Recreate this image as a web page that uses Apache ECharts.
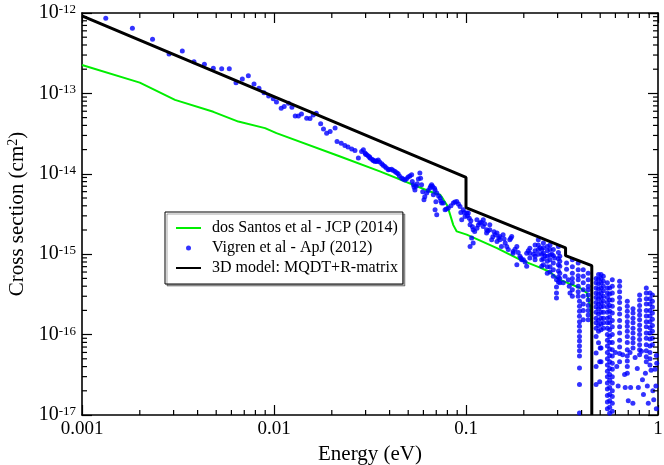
<!DOCTYPE html>
<html>
<head>
<meta charset="utf-8">
<script src="https://cdn.jsdelivr.net/npm/echarts@6/dist/echarts.min.js"></script>
<style>
  html, body { margin: 0; padding: 0; background: #fff; }
  #main { width: 664px; height: 465px; }
</style>
</head>
<body>
<div id="main"></div>
<script>
// tick labels
var xTickLabels = ['0.001', '0.01', '0.1', '1'];
var yTickExponents = ['-17', '-16', '-15', '-14', '-13', '-12'];

// dos Santos et al - JCP (2014)
var dosSantos = [
    [0.001, 2.26e-13], [0.002, 1.36e-13], [0.00305, 8.3e-14], [0.00483, 5.9e-14],
    [0.00652, 4.46e-14], [0.00898, 3.7e-14], [0.0103, 3.2e-14], [0.0221, 1.64e-14],
    [0.0356, 1.07e-14], [0.0649, 6.03e-15], [0.0733, 5.5e-15], [0.0762, 4.8e-15],
    [0.080, 4.0e-15], [0.0859, 2.3e-15], [0.0895, 1.92e-15], [0.1009, 1.75e-15],
    [0.145, 1.19e-15], [0.191, 8.55e-16], [0.243, 6.8e-16], [0.274, 6.0e-16],
    [0.296, 5.1e-16], [0.309, 4.8e-16], [0.393, 3.8e-16], [0.426, 3.3e-16],
    [0.443, 2.25e-16], [0.452, 1.2e-16]
];

// 3D model: MQDT+R-matrix
var model3D = [
    [0.001, 9.2e-13], [0.1, 9.0e-15], [0.1, 3.8e-15], [0.33, 1.2e-15],
    [0.33, 9.6e-16], [0.452, 7.2e-16], [0.452, 1e-17]
];

// Vigren et al - ApJ (2012), low / middle energies
var vigrenLow = [
    [0.00133, 8.6e-13], [0.00183, 6.45e-13], [0.00233, 4.71e-13], [0.00284, 3.1e-13],
    [0.00333, 3.37e-13], [0.00383, 2.48e-13], [0.00434, 2.31e-13], [0.00483, 2.06e-13],
    [0.00534, 2.02e-13], [0.00585, 2.02e-13], [0.00634, 1.36e-13], [0.00684, 1.51e-13],
    [0.00735, 1.66e-13], [0.00787, 1.31e-13], [0.00835, 1.16e-13], [0.00887, 1.02e-13],
    [0.00938, 9.3e-14], [0.00991, 8.6e-14], [0.0103, 7.8e-14], [0.0109, 6.55e-14],
    [0.0113, 6.86e-14], [0.0119, 7.55e-14], [0.0124, 6.74e-14], [0.0129, 5.25e-14],
    [0.0134, 5.25e-14], [0.0139, 5.56e-14], [0.0148, 4.92e-14], [0.0154, 4.86e-14],
    [0.016, 5.4e-14], [0.0166, 5.68e-14], [0.0175, 4.18e-14], [0.0181, 3.6e-14],
    [0.0188, 3.2e-14], [0.0196, 3.37e-14], [0.0208, 3.7e-14], [0.0213, 2.52e-14],
    [0.0224, 2.4e-14], [0.0234, 2.25e-14], [0.0243, 2.15e-14], [0.0254, 2.03e-14],
    [0.0264, 1.95e-14], [0.0275, 1.57e-14], [0.0286, 1.89e-14], [0.0292, 1.99e-14],
    [0.0298, 1.81e-14], [0.0304, 1.73e-14], [0.0310, 1.67e-14], [0.0316, 1.57e-14],
    [0.0323, 1.52e-14], [0.0328, 1.49e-14], [0.0336, 1.42e-14], [0.0344, 1.42e-14],
    [0.0349, 1.49e-14], [0.0364, 1.33e-14], [0.0378, 1.23e-14], [0.0394, 1.12e-14],
    [0.0410, 1.14e-14], [0.0427, 1.07e-14], [0.0443, 1.0e-14], [0.0462, 8.85e-15],
    [0.0481, 8.4e-15], [0.0500, 9.1e-15], [0.0521, 9.7e-15], [0.0532, 7.3e-15],
    [0.0542, 6.3e-15], [0.0557, 7.5e-15], [0.0575, 1.02e-14], [0.0587, 7.3e-15]
];

var vigrenMid = [
    [0.0604, 4.75e-15], [0.0624, 5.75e-15], [0.0649, 6.64e-15], [0.0662, 7.3e-15],
    [0.0671, 6.95e-15], [0.0676, 5.5e-15], [0.0690, 3.57e-15], [0.0704, 3.1e-15],
    [0.0690, 6.3e-15], [0.0704, 5.75e-15], [0.0733, 5.0e-15], [0.0747, 4.32e-15],
    [0.0762, 4.32e-15], [0.0778, 3.57e-15], [0.0809, 3.75e-15], [0.0859, 4.32e-15],
    [0.0895, 4.53e-15], [0.0931, 3.93e-15], [0.0950, 2.68e-15], [0.0968, 3.57e-15],
    [0.0989, 2.95e-15], [0.1009, 3.25e-15], [0.1028, 3.25e-15], [0.105, 2.32e-15],
    [0.107, 1.59e-15], [0.105, 1.25e-15], [0.109, 2.01e-15], [0.109, 1.38e-15],
    [0.111, 1.92e-15], [0.114, 2.11e-15], [0.114, 2.68e-15], [0.118, 2.44e-15],
    [0.123, 2.21e-15], [0.123, 2.68e-15], [0.128, 1.83e-15], [0.128, 2.01e-15],
    [0.133, 2.01e-15], [0.133, 2.32e-15], [0.136, 1.51e-15], [0.142, 1.75e-15],
    [0.145, 1.44e-15], [0.145, 1.83e-15], [0.150, 1.66e-15], [0.150, 1.51e-15],
    [0.153, 1.25e-15], [0.156, 1.75e-15], [0.160, 1.38e-15], [0.166, 1.14e-15],
    [0.169, 1.51e-15], [0.173, 1.66e-15], [0.176, 1.03e-15], [0.176, 1.08e-15],
    [0.184, 7.4e-16], [0.184, 1.25e-15], [0.191, 9.4e-16], [0.195, 8.55e-16],
    [0.199, 8.55e-16], [0.207, 7.06e-16], [0.207, 1.03e-15]
];

// Vigren, extra points filling the dense band between 0.03 and 0.3 eV
var vigrenBand = [
    [0.0300, 1.75e-14], [0.0315, 1.62e-14], [0.0330, 1.45e-14], [0.0340, 1.45e-14],
    [0.0355, 1.40e-14], [0.0370, 1.28e-14], [0.0385, 1.18e-14], [0.0400, 1.13e-14],
    [0.0418, 1.10e-14], [0.0435, 1.03e-14], [0.0450, 9.4e-15], [0.0470, 8.6e-15],
    [0.0490, 8.7e-15], [0.0510, 9.4e-15], [0.0525, 8.0e-15], [0.0537, 6.8e-15],
    [0.0550, 7.0e-15], [0.0565, 8.6e-15], [0.0580, 8.8e-15], [0.0595, 6.0e-15],
    [0.0610, 5.2e-15], [0.0635, 6.2e-15], [0.0655, 7.0e-15], [0.0685, 6.6e-15],
    [0.0697, 4.5e-15], [0.0720, 5.3e-15], [0.0740, 4.6e-15], [0.0790, 3.65e-15],
    [0.0835, 4.0e-15], [0.0875, 4.45e-15], [0.0913, 4.2e-15], [0.0940, 3.3e-15],
    [0.0978, 3.3e-15], [0.1018, 3.0e-15], [0.1040, 2.8e-15], [0.1060, 2.6e-15],
    [0.1080, 2.2e-15], [0.116, 2.3e-15], [0.120, 2.5e-15], [0.125, 2.4e-15],
    [0.130, 1.95e-15], [0.138, 1.65e-15], [0.140, 1.9e-15], [0.148, 1.6e-15],
    [0.158, 1.55e-15], [0.163, 1.25e-15], [0.171, 1.58e-15], [0.180, 1.15e-15],
    [0.187, 1.05e-15], [0.193, 9.0e-16], [0.203, 8.0e-16], [0.211, 1.1e-15],
    [0.225, 1.0e-15], [0.243, 1.2e-15], [0.258, 9.5e-16], [0.280, 1.0e-15],
    [0.290, 9.0e-16]
];

// Vigren, resonance region: [energy, [cross sections down the column]]
var vigrenColumns = [
    [0.215, [1.19e-15, 1.03e-15, 9.0e-16]],
    [0.229, [1.3e-15, 1.1e-15, 9.4e-16, 8.5e-16]],
    [0.238, [1.51e-15, 1.3e-15, 1.14e-15, 1.0e-15]],
    [0.248, [1.14e-15, 1.0e-15, 8.5e-16, 7.1e-16]],
    [0.253, [1.38e-15, 1.2e-15, 1.03e-15, 8.8e-16, 7.4e-16]],
    [0.265, [1.25e-15, 1.1e-15, 9.4e-16, 8.2e-16, 7.0e-16, 5.8e-16]],
    [0.274, [1.3e-15, 1.14e-15, 9.8e-16, 8.5e-16, 7.0e-16, 6.0e-16]],
    [0.285, [1.14e-15, 9.6e-16, 7.8e-16, 6.4e-16, 5.3e-16]],
    [0.296, [4.8e-16, 3.9e-16, 3.3e-16, 2.85e-16]],
    [0.303, [1.25e-15, 1.05e-15, 8.8e-16, 7.4e-16, 6.2e-16, 5.2e-16, 4.5e-16]],
    [0.308, [9.4e-16, 8.2e-16, 7.1e-16, 5.8e-16, 5.0e-16, 4.4e-16]],
    [0.321, [4.4e-16]],
    [0.328, [5.3e-16]],
    [0.334, [7.8e-16, 6.5e-16]],
    [0.341, [4.8e-16]],
    [0.345, [4.0e-16]],
    [0.348, [3.3e-16]],
    [0.358, [8.5e-16, 7.0e-16, 5.8e-16, 5.0e-16, 4.4e-16, 3.6e-16, 3.0e-16]],
    [0.384, [7.8e-16, 6.4e-16, 5.4e-16, 4.8e-16, 4.0e-16, 3.4e-16, 3.0e-16]],
    [0.390, [2.6e-16, 2.25e-16, 1.95e-16, 1.69e-16, 1.45e-16, 1.27e-16, 1.1e-16, 9.5e-17,
             8.3e-17, 7.2e-17, 6.3e-17, 5.4e-17, 3.85e-17, 2.4e-17, 1.06e-17]],
    [0.408, [6.4e-16, 5.3e-16, 4.4e-16, 3.6e-16, 3.0e-16, 2.4e-16, 2.0e-16, 1.53e-16]],
    [0.433, [5.8e-16, 4.8e-16, 4.0e-16, 3.6e-16, 3.1e-16, 2.7e-16, 2.3e-16, 2.0e-16, 1.75e-16, 1.53e-16]],
    [0.476, [5.0e-16, 4.4e-16, 3.8e-16, 3.3e-16, 2.9e-16, 2.5e-16, 2.2e-16, 1.9e-16, 1.6e-16,
             1.4e-16, 1.2e-16, 9.5e-17, 5.9e-17, 4.0e-17, 2.4e-17]],
    [0.490, [5.6e-16, 4.9e-16, 4.3e-16, 3.7e-16, 3.2e-16, 2.8e-16, 2.4e-16, 2.1e-16, 1.8e-16,
             1.5e-16, 1.3e-16, 1.1e-16, 7.9e-17]],
    [0.505, [5.6e-16, 5.0e-16, 4.4e-16, 3.8e-16, 3.3e-16, 2.9e-16, 2.5e-16, 2.2e-16, 1.9e-16,
             1.6e-16, 1.35e-16, 1.15e-16, 6.8e-17, 4.6e-17]],
    [0.519, [5.3e-16, 4.6e-16, 4.0e-16, 3.5e-16, 3.0e-16, 2.6e-16, 2.25e-16, 1.9e-16, 1.6e-16,
             1.4e-16, 1.2e-16]],
    [0.545, [4.4e-16, 3.8e-16, 3.3e-16, 2.9e-16, 2.5e-16, 2.2e-16, 1.9e-16, 1.6e-16, 1.4e-16,
             1.2e-16, 1.0e-16, 8.5e-17, 7.2e-17, 6.0e-17, 5.0e-17, 4.2e-17, 3.5e-17, 3.0e-17,
             2.5e-17, 2.1e-17, 1.75e-17, 1.45e-17, 1.2e-17]],
    [0.560, [3.8e-16, 3.2e-16, 2.7e-16, 2.3e-16, 1.95e-16, 1.65e-16, 1.4e-16, 1.15e-16, 9.5e-17,
             8.0e-17, 6.6e-17, 5.5e-17, 4.6e-17, 3.8e-17, 3.2e-17, 2.7e-17, 2.2e-17, 1.8e-17,
             1.5e-17, 1.25e-17, 1.05e-17]],
    [0.578, [4.8e-16, 4.0e-16, 3.3e-16, 2.7e-16, 2.25e-16, 1.85e-16, 1.5e-16, 1.25e-16, 1.0e-16,
             8.0e-17, 6.5e-17, 5.4e-17, 4.4e-17, 3.7e-17, 3.0e-17, 2.5e-17, 2.0e-17, 1.7e-17,
             1.4e-17, 1.11e-17]],
    [0.631, [4.6e-16, 4.0e-16, 3.4e-16, 2.9e-16, 2.5e-16, 2.1e-16, 1.8e-16, 1.5e-16, 1.25e-16,
             1.05e-16, 8.5e-17, 7.0e-17, 5.8e-17, 4.6e-17]],
    [0.692, [2.6e-16, 2.25e-16, 1.95e-16, 1.69e-16, 1.45e-16, 1.27e-16, 1.1e-16, 9.5e-17, 8.0e-17,
             6.5e-17, 5.4e-17, 4.7e-17, 4.0e-17, 3.3e-17]],
    [0.741, [2.1e-16, 1.85e-16, 1.6e-16, 1.4e-16, 1.2e-16, 1.05e-16, 9.0e-17, 7.9e-17, 6.8e-17]],
    [0.802, [3.1e-16, 2.7e-16, 2.3e-16, 2.0e-16, 1.75e-16, 1.53e-16, 1.32e-16, 1.15e-16, 1.0e-16,
             8.7e-17, 7.5e-17, 6.5e-17, 5.6e-17]],
    [0.869, [3.8e-16, 3.3e-16, 2.8e-16, 2.4e-16, 2.0e-16, 1.7e-16, 1.45e-16, 1.25e-16, 1.05e-16,
             9.0e-17, 7.5e-17, 6.3e-17, 5.3e-17, 4.6e-17]],
    [0.908, [3.3e-16, 2.8e-16, 2.4e-16, 2.0e-16, 1.7e-16, 1.45e-16, 1.22e-16, 1.05e-16, 8.8e-17,
             7.2e-17, 6.0e-17, 5.0e-17, 4.2e-17]],
    [0.935, [3.1e-16, 2.6e-16, 2.2e-16, 1.85e-16, 1.55e-16, 1.3e-16, 1.1e-16, 9.0e-17, 7.5e-17]]
];

// Vigren, isolated points at high energy
var vigrenScatter = [
    [0.50, 6.8e-17], [0.497, 4.6e-17], [0.497, 2.6e-17], [0.60, 6.0e-17], [0.61, 4.0e-17],
    [0.62, 2.3e-17], [0.655, 5.6e-17], [0.67, 3.2e-17], [0.675, 2.2e-17], [0.70, 1.5e-17],
    [0.715, 6.0e-17], [0.72, 2.2e-17], [0.74, 1.4e-17], [0.76, 5.2e-17], [0.78, 3.8e-17],
    [0.79, 2.2e-17], [0.82, 6.2e-17], [0.83, 2.75e-17], [0.84, 1.8e-17], [0.86, 3.3e-17],
    [0.88, 2.3e-17], [0.89, 1.4e-17], [0.92, 3.6e-17], [0.94, 2.0e-17], [0.95, 1.55e-17],
    [0.965, 3.7e-17], [0.975, 2.3e-17], [0.98, 1.2e-17], [0.98, 5.5e-17], [0.985, 4.4e-17]
];

var seriesNames = ['dos Santos et al - JCP (2014)', 'Vigren et al - ApJ (2012)', '3D model: MQDT+R-matrix'];

var vigren = vigrenLow.concat(vigrenMid, vigrenBand, vigrenScatter);
vigrenColumns.forEach(function (c) {
    c[1].forEach(function (s) { vigren.push([c[0], s]); });
});

// minor tick positions (2..9 per decade)
var xMinor = [], yMinor = [];
[0.001, 0.01, 0.1].forEach(function (d) {
    for (var m = 2; m <= 9; m++) xMinor.push([m * d, 1e-17]);
});
[1e-17, 1e-16, 1e-15, 1e-14, 1e-13].forEach(function (d) {
    for (var m = 2; m <= 9; m++) yMinor.push([0.001, m * d]);
});

var FONT = 'Liberation Serif';

var myChart = echarts.init(document.getElementById('main'));

function minorTicks(data, horizontal) {
    return {
        type: 'custom',
        silent: true,
        clip: false,
        z: 5,
        data: data,
        renderItem: function (params, api) {
            var cs = params.coordSys;
            var p = api.coord([api.value(0), api.value(1)]);
            var st = {stroke: '#000', lineWidth: 1.2};
            if (horizontal) {
                var x = p[0], yb = cs.y + cs.height, yt = cs.y;
                return {type: 'group', children: [
                    {type: 'line', shape: {x1: x, y1: yb, x2: x, y2: yb - 5}, style: st},
                    {type: 'line', shape: {x1: x, y1: yt, x2: x, y2: yt + 5}, style: st}
                ]};
            }
            var y = p[1], xl = cs.x, xr = cs.x + cs.width;
            return {type: 'group', children: [
                {type: 'line', shape: {x1: xl, y1: y, x2: xl + 5, y2: y}, style: st},
                {type: 'line', shape: {x1: xr, y1: y, x2: xr - 5, y2: y}, style: st}
            ]};
        }
    };
}

var axisLine = {show: true, lineStyle: {color: '#000', width: 1.6}};
var axisTick = {show: true, inside: true, length: 10, lineStyle: {color: '#000', width: 1.2}};

option = {
    animation: false,
    backgroundColor: '#fff',
    grid: {left: 82, right: 6, top: 13, bottom: 50, containLabel: false, outerBoundsMode: 'none'},
    legend: {
        data: [
            {name: seriesNames[0], itemStyle: {opacity: 0}},
            {name: seriesNames[1], icon: 'circle'},
            {name: seriesNames[2], itemStyle: {opacity: 0}}
        ],
        orient: 'vertical',
        left: 165,
        top: 212,
        itemWidth: 25,
        itemHeight: 5,
        itemGap: 4,
        padding: [8, 5, 8, 10],
        borderColor: '#000',
        borderWidth: 1,
        backgroundColor: '#fff',
        shadowColor: 'rgba(0,0,0,0.35)',
        shadowOffsetX: 2,
        shadowOffsetY: 2,
        shadowBlur: 0,
        textStyle: {fontFamily: FONT, fontSize: 16, color: '#000', padding: [0, 0, 0, 6]}
    },
    xAxis: [{
        type: 'log',
        logBase: 10,
        min: 0.001,
        max: 1,
        position: 'bottom',
        axisLine: axisLine,
        axisTick: axisTick,
        splitLine: {show: false},
        axisLabel: {
            fontFamily: FONT, fontSize: 19, color: '#000', margin: 5,
            showMinLabel: true, showMaxLabel: true,
            formatter: function (v) {
                return xTickLabels[Math.round(Math.log10(v)) + 3];
            }
        },
        name: 'Energy (eV)',
        nameLocation: 'middle',
        nameGap: 24,
        nameTextStyle: {fontFamily: FONT, fontSize: 21, color: '#000'}
    }, {
        type: 'log',
        logBase: 10,
        min: 0.001,
        max: 1,
        position: 'top',
        axisLine: axisLine,
        axisTick: axisTick,
        axisLabel: {show: false},
        splitLine: {show: false}
    }],
    yAxis: [{
        type: 'log',
        logBase: 10,
        min: 1e-17,
        max: 1e-12,
        position: 'left',
        axisLine: axisLine,
        axisTick: axisTick,
        splitLine: {show: false},
        axisLabel: {
            margin: 6,
            showMinLabel: true, showMaxLabel: true,
            formatter: function (v) {
                return '{b|10}{s|' + yTickExponents[Math.round(Math.log10(v)) + 17] + '}';
            },
            rich: {
                b: {fontFamily: FONT, fontSize: 20, color: '#000', lineHeight: 20, padding: [10, 0, 0, 0], verticalAlign: 'bottom'},
                s: {fontFamily: FONT, fontSize: 13, color: '#000', lineHeight: 15, verticalAlign: 'top'}
            }
        },
        name: '{a|Cross section (cm}{s|2}{a|)}',
        nameLocation: 'middle',
        nameRotate: 90,
        nameGap: 42,
        nameTextStyle: {
            rich: {
                a: {fontFamily: FONT, fontSize: 21, color: '#000', lineHeight: 21, padding: [8, 0, 0, 0], verticalAlign: 'bottom'},
                s: {fontFamily: FONT, fontSize: 14, color: '#000', lineHeight: 14, verticalAlign: 'top'}
            }
        }
    }, {
        type: 'log',
        logBase: 10,
        min: 1e-17,
        max: 1e-12,
        position: 'right',
        axisLine: axisLine,
        axisTick: axisTick,
        axisLabel: {show: false},
        splitLine: {show: false}
    }],
    series: [
        {
            name: seriesNames[0],
            type: 'line',
            data: dosSantos,
            showSymbol: false,
            symbol: 'none',
            lineStyle: {color: '#00ee00', width: 2},
            itemStyle: {color: '#00ee00'},
            z: 2
        },
        {
            name: seriesNames[1],
            type: 'scatter',
            data: vigren,
            symbol: 'circle',
            symbolSize: 5,
            itemStyle: {color: '#0000ff'},
            z: 3
        },
        {
            name: seriesNames[2],
            type: 'line',
            data: model3D,
            showSymbol: false,
            symbol: 'none',
            lineStyle: {color: '#000', width: 3},
            itemStyle: {color: '#000'},
            z: 4
        },
        minorTicks(xMinor, true),
        minorTicks(yMinor, false)
    ]
};

myChart.setOption(option);
window.addEventListener('resize', function () {
    myChart.resize();
});
</script>
</body>
</html>
